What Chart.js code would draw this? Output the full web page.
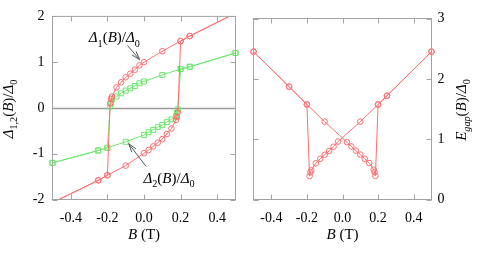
<!DOCTYPE html>
<html><head><meta charset="utf-8">
<script src="https://cdn.jsdelivr.net/npm/chart.js@4.4.1/dist/chart.umd.min.js"></script>
<style>
html,body{margin:0;padding:0;background:#fff;width:480px;height:253px;overflow:hidden}
#c1{position:absolute;left:0;top:0}
#c2{position:absolute;left:240px;top:0}
</style></head>
<body>
<canvas id="c1" width="240" height="253"></canvas>
<canvas id="c2" width="240" height="253"></canvas>
<script>
// ---- tick labels ----
const xTicks = [-0.4, -0.2, 0.0, 0.2, 0.4];
const yTicksLeft = [-2, -1, 0, 1, 2];
const yTicksRight = [0, 1, 2, 3];

// ---- left panel: Delta_1 (red circles) and Delta_2 (green squares), two sweep branches ----
const bUp = [-0.5, -0.25, -0.2, -0.185, -0.18, -0.175, -0.15, -0.125, -0.1, -0.075, -0.05, -0.025, 0, 0.1, 0.2, 0.25, 0.5];
const bDown = [0.5, 0.25, 0.2, 0.185, 0.18, 0.175, 0.15, 0.125, 0.1, 0.075, 0.05, 0.025, 0, -0.1, -0.2, -0.25, -0.5];
const delta1Up = [-2.07, -1.58, -1.47, 0.10, 0.20, 0.25, 0.45, 0.56, 0.67, 0.75, 0.835, 0.93, 1.00, 1.24, 1.46, 1.57, 2.07];
const delta1Down = [2.07, 1.57, 1.46, -0.10, -0.20, -0.26, -0.45, -0.57, -0.68, -0.76, -0.84, -0.92, -0.99, -1.26, -1.47, -1.58, -2.07];
const delta2Up = [-1.20, -0.93, -0.87, 0.03, 0.10, 0.19, 0.25, 0.32, 0.38, 0.43, 0.48, 0.54, 0.58, 0.72, 0.85, 0.90, 1.20];
const delta2Down = [1.20, 0.90, 0.85, -0.03, -0.10, -0.18, -0.25, -0.31, -0.37, -0.42, -0.48, -0.53, -0.59, -0.74, -0.87, -0.93, -1.20];

// ---- right panel: E_gap, two sweep branches ----
const bGapUp = [-0.5, -0.3, -0.2, -0.1, 0.025, 0.05, 0.075, 0.1, 0.125, 0.15, 0.175, 0.18, 0.185, 0.2, 0.25, 0.5];
const gapUp = [2.45, 1.87, 1.575, 1.29, 0.95, 0.88, 0.81, 0.745, 0.675, 0.605, 0.495, 0.455, 0.39, 1.575, 1.72, 2.45];
const bGapDown = [0.5, 0.25, 0.2, 0.1, -0.025, -0.05, -0.075, -0.1, -0.125, -0.15, -0.175, -0.18, -0.185, -0.2, -0.3, -0.5];
const gapDown = [2.45, 1.72, 1.575, 1.29, 0.96, 0.875, 0.805, 0.74, 0.675, 0.60, 0.485, 0.453, 0.387, 1.575, 1.87, 2.45];

const RED = 'rgb(255,110,110)';
const GREEN = 'rgb(110,232,110)';
const FRAME = '#a3a3a3';
const FAM = "'Liberation Serif', 'Times New Roman', serif";

function pts(xs, ys) { return xs.map((x, i) => ({ x: x, y: ys[i] })); }
function series(xs, ys, color, style) {
  return {
    data: pts(xs, ys), borderColor: color, borderWidth: 1, showLine: true, tension: 0,
    pointStyle: style, pointRadius: style === 'rect' ? 3.5 : 2.8, pointBorderWidth: 1,
    pointBorderColor: color, pointBackgroundColor: 'rgba(255,255,255,0)',
    pointHoverRadius: 0, clip: { left: 6, right: 6, top: 0, bottom: 0 }
  };
}

function rich(ctx, segs, x, y, size, align, rot) {
  const parts = segs.map(([t, st]) => {
    const sub = st.indexOf('s') >= 0, it = st.indexOf('i') >= 0;
    const fs = sub ? size * 0.68 : size;
    const font = (it ? 'italic ' : '') + fs + 'px ' + FAM;
    ctx.font = font;
    return { t, font, w: ctx.measureText(t).width, dy: sub ? size * 0.27 : 0 };
  });
  const total = parts.reduce((a, p) => a + p.w, 0);
  ctx.save();
  ctx.translate(x, y);
  if (rot) ctx.rotate(rot);
  let cx = align === 'center' ? -total / 2 : (align === 'right' ? -total : 0);
  ctx.textAlign = 'left'; ctx.textBaseline = 'alphabetic'; ctx.fillStyle = '#000';
  for (const p of parts) { ctx.font = p.font; ctx.fillText(p.t, cx, p.dy); cx += p.w; }
  ctx.restore();
}

function arrow(ctx, x1, y1, x2, y2) {
  ctx.save();
  ctx.strokeStyle = '#555'; ctx.lineWidth = 1;
  ctx.beginPath(); ctx.moveTo(x1, y1); ctx.lineTo(x2, y2); ctx.stroke();
  const ang = Math.atan2(y2 - y1, x2 - x1), L = 9, s = 0.3;
  ctx.beginPath();
  ctx.moveTo(x2 - L * Math.cos(ang - s), y2 - L * Math.sin(ang - s));
  ctx.lineTo(x2, y2);
  ctx.lineTo(x2 - L * Math.cos(ang + s), y2 - L * Math.sin(ang + s));
  ctx.stroke();
  ctx.restore();
}

const framePlugin = {
  id: 'frame',
  beforeDatasetsDraw(chart, args, opts) {
    if (!opts.zero) return;
    const { ctx, chartArea: a, scales: { y } } = chart;
    const py = Math.round(y.getPixelForValue(0)) + 0.5;
    ctx.save(); ctx.strokeStyle = '#9a9a9a'; ctx.lineWidth = 1.3;
    ctx.beginPath(); ctx.moveTo(a.left, py); ctx.lineTo(a.right, py); ctx.stroke(); ctx.restore();
  },
  afterDatasetsDraw(chart, args, opts) {
    const { ctx, chartArea: a, scales: { x, y } } = chart;
    ctx.save(); ctx.strokeStyle = FRAME; ctx.lineWidth = 1;
    ctx.strokeRect(a.left, a.top, a.right - a.left, a.bottom - a.top);
    const T = 5;
    ctx.beginPath();
    for (const v of xTicks) {
      const px = Math.round(x.getPixelForValue(v)) + 0.5;
      ctx.moveTo(px, a.bottom); ctx.lineTo(px, a.bottom - T);
      ctx.moveTo(px, a.top); ctx.lineTo(px, a.top + T);
    }
    for (const v of opts.yt) {
      const py = Math.round(y.getPixelForValue(v)) + 0.5;
      ctx.moveTo(a.left, py); ctx.lineTo(a.left + T, py);
      ctx.moveTo(a.right, py); ctx.lineTo(a.right - T, py);
    }
    ctx.stroke(); ctx.restore();
  },
  afterDraw(chart, args, opts) {
    const { ctx, chartArea: a, scales: { x, y } } = chart;
    const cx = (a.left + a.right) / 2, cy = (a.top + a.bottom) / 2;
    rich(ctx, [['B', 'i'], [' (T)', '']], cx, 238.5, 15, 'center');
    if (opts.side === 'left') {
      rich(ctx, [['Δ', 'i'], ['1,2', 's'], ['(', ''], ['B', 'i'], [')/', ''], ['Δ', 'i'], ['0', 's']], 12.5, cy + 1, 15, 'center', -Math.PI / 2);
      rich(ctx, [['Δ', 'i'], ['1', 's'], ['(', ''], ['B', 'i'], [')/', ''], ['Δ', 'i'], ['0', 's']], x.getPixelForValue(-0.302), y.getPixelForValue(1.43), 15, 'left');
      arrow(ctx, x.getPixelForValue(-0.09), y.getPixelForValue(1.365), x.getPixelForValue(-0.024), y.getPixelForValue(1.055));
      rich(ctx, [['Δ', 'i'], ['2', 's'], ['(', ''], ['B', 'i'], [')/', ''], ['Δ', 'i'], ['0', 's']], x.getPixelForValue(-0.003), y.getPixelForValue(-1.64), 15, 'left');
      arrow(ctx, x.getPixelForValue(0.012), y.getPixelForValue(-1.28), x.getPixelForValue(-0.084), y.getPixelForValue(-0.78));
    } else {
      rich(ctx, [['E', 'i'], ['gap', 'si'], ['(', ''], ['B', 'i'], [')/', ''], ['Δ', 'i'], ['0', 's']], 225.5, cy + 1, 15, 'center', -Math.PI / 2);
    }
  }
};

function makeChart(id, datasets, yMin, yMax, yTicks, yPos, side) {
  return new Chart(document.getElementById(id), {
    type: 'scatter',
    data: { datasets },
    plugins: [framePlugin],
    options: {
      responsive: false, animation: false, devicePixelRatio: 1,
      layout: { padding: { left: 0, right: 0, top: 0, bottom: 0 } },
      plugins: { legend: { display: false }, tooltip: { enabled: false },
        frame: { zero: side === 'left', yt: yTicks, side } },
      events: [],
      scales: {
        x: {
          type: 'linear', min: -0.5, max: 0.5,
          afterBuildTicks: s => { s.ticks = xTicks.map(v => ({ value: v })); },
          grid: { display: false, drawTicks: false }, border: { display: false },
          ticks: { padding: 10, color: '#000', font: { family: FAM, size: 14 },
            callback: v => v.toFixed(1), maxRotation: 0, autoSkip: false }
        },
        y: {
          type: 'linear', min: yMin, max: yMax, position: yPos,
          afterBuildTicks: s => { s.ticks = yTicks.map(v => ({ value: v })); },
          grid: { display: false, drawTicks: false }, border: { display: false },
          ticks: { padding: yPos === 'left' ? 8 : 6, color: '#000', font: { family: FAM, size: 14 },
            callback: v => String(v), autoSkip: false }
        }
      }
    }
  });
}

function fitArea(chart, t) {
  for (let k = 0; k < 5; k++) {
    const a = chart.chartArea, p = chart.options.layout.padding;
    p.left += t.left - a.left; p.top += t.top - a.top;
    p.right += a.right - t.right; p.bottom += a.bottom - t.bottom;
    chart.update('none');
  }
}

const c1 = makeChart('c1', [
  series(bUp, delta1Up, RED, 'circle'),
  series(bDown, delta1Down, RED, 'circle'),
  series(bUp, delta2Up, GREEN, 'rect'),
  series(bDown, delta2Down, GREEN, 'rect')
], -2, 2, yTicksLeft, 'left', 'left');
fitArea(c1, { left: 52.5, right: 236.5, top: 18.5, bottom: 199.5 });

const c2 = makeChart('c2', [
  series(bGapUp, gapUp, RED, 'circle'),
  series(bGapDown, gapDown, RED, 'circle')
], 0, 3, yTicksRight, 'right', 'right');
fitArea(c2, { left: 13.5, right: 191.5, top: 18.5, bottom: 199.5 });
</script>
</body></html>
